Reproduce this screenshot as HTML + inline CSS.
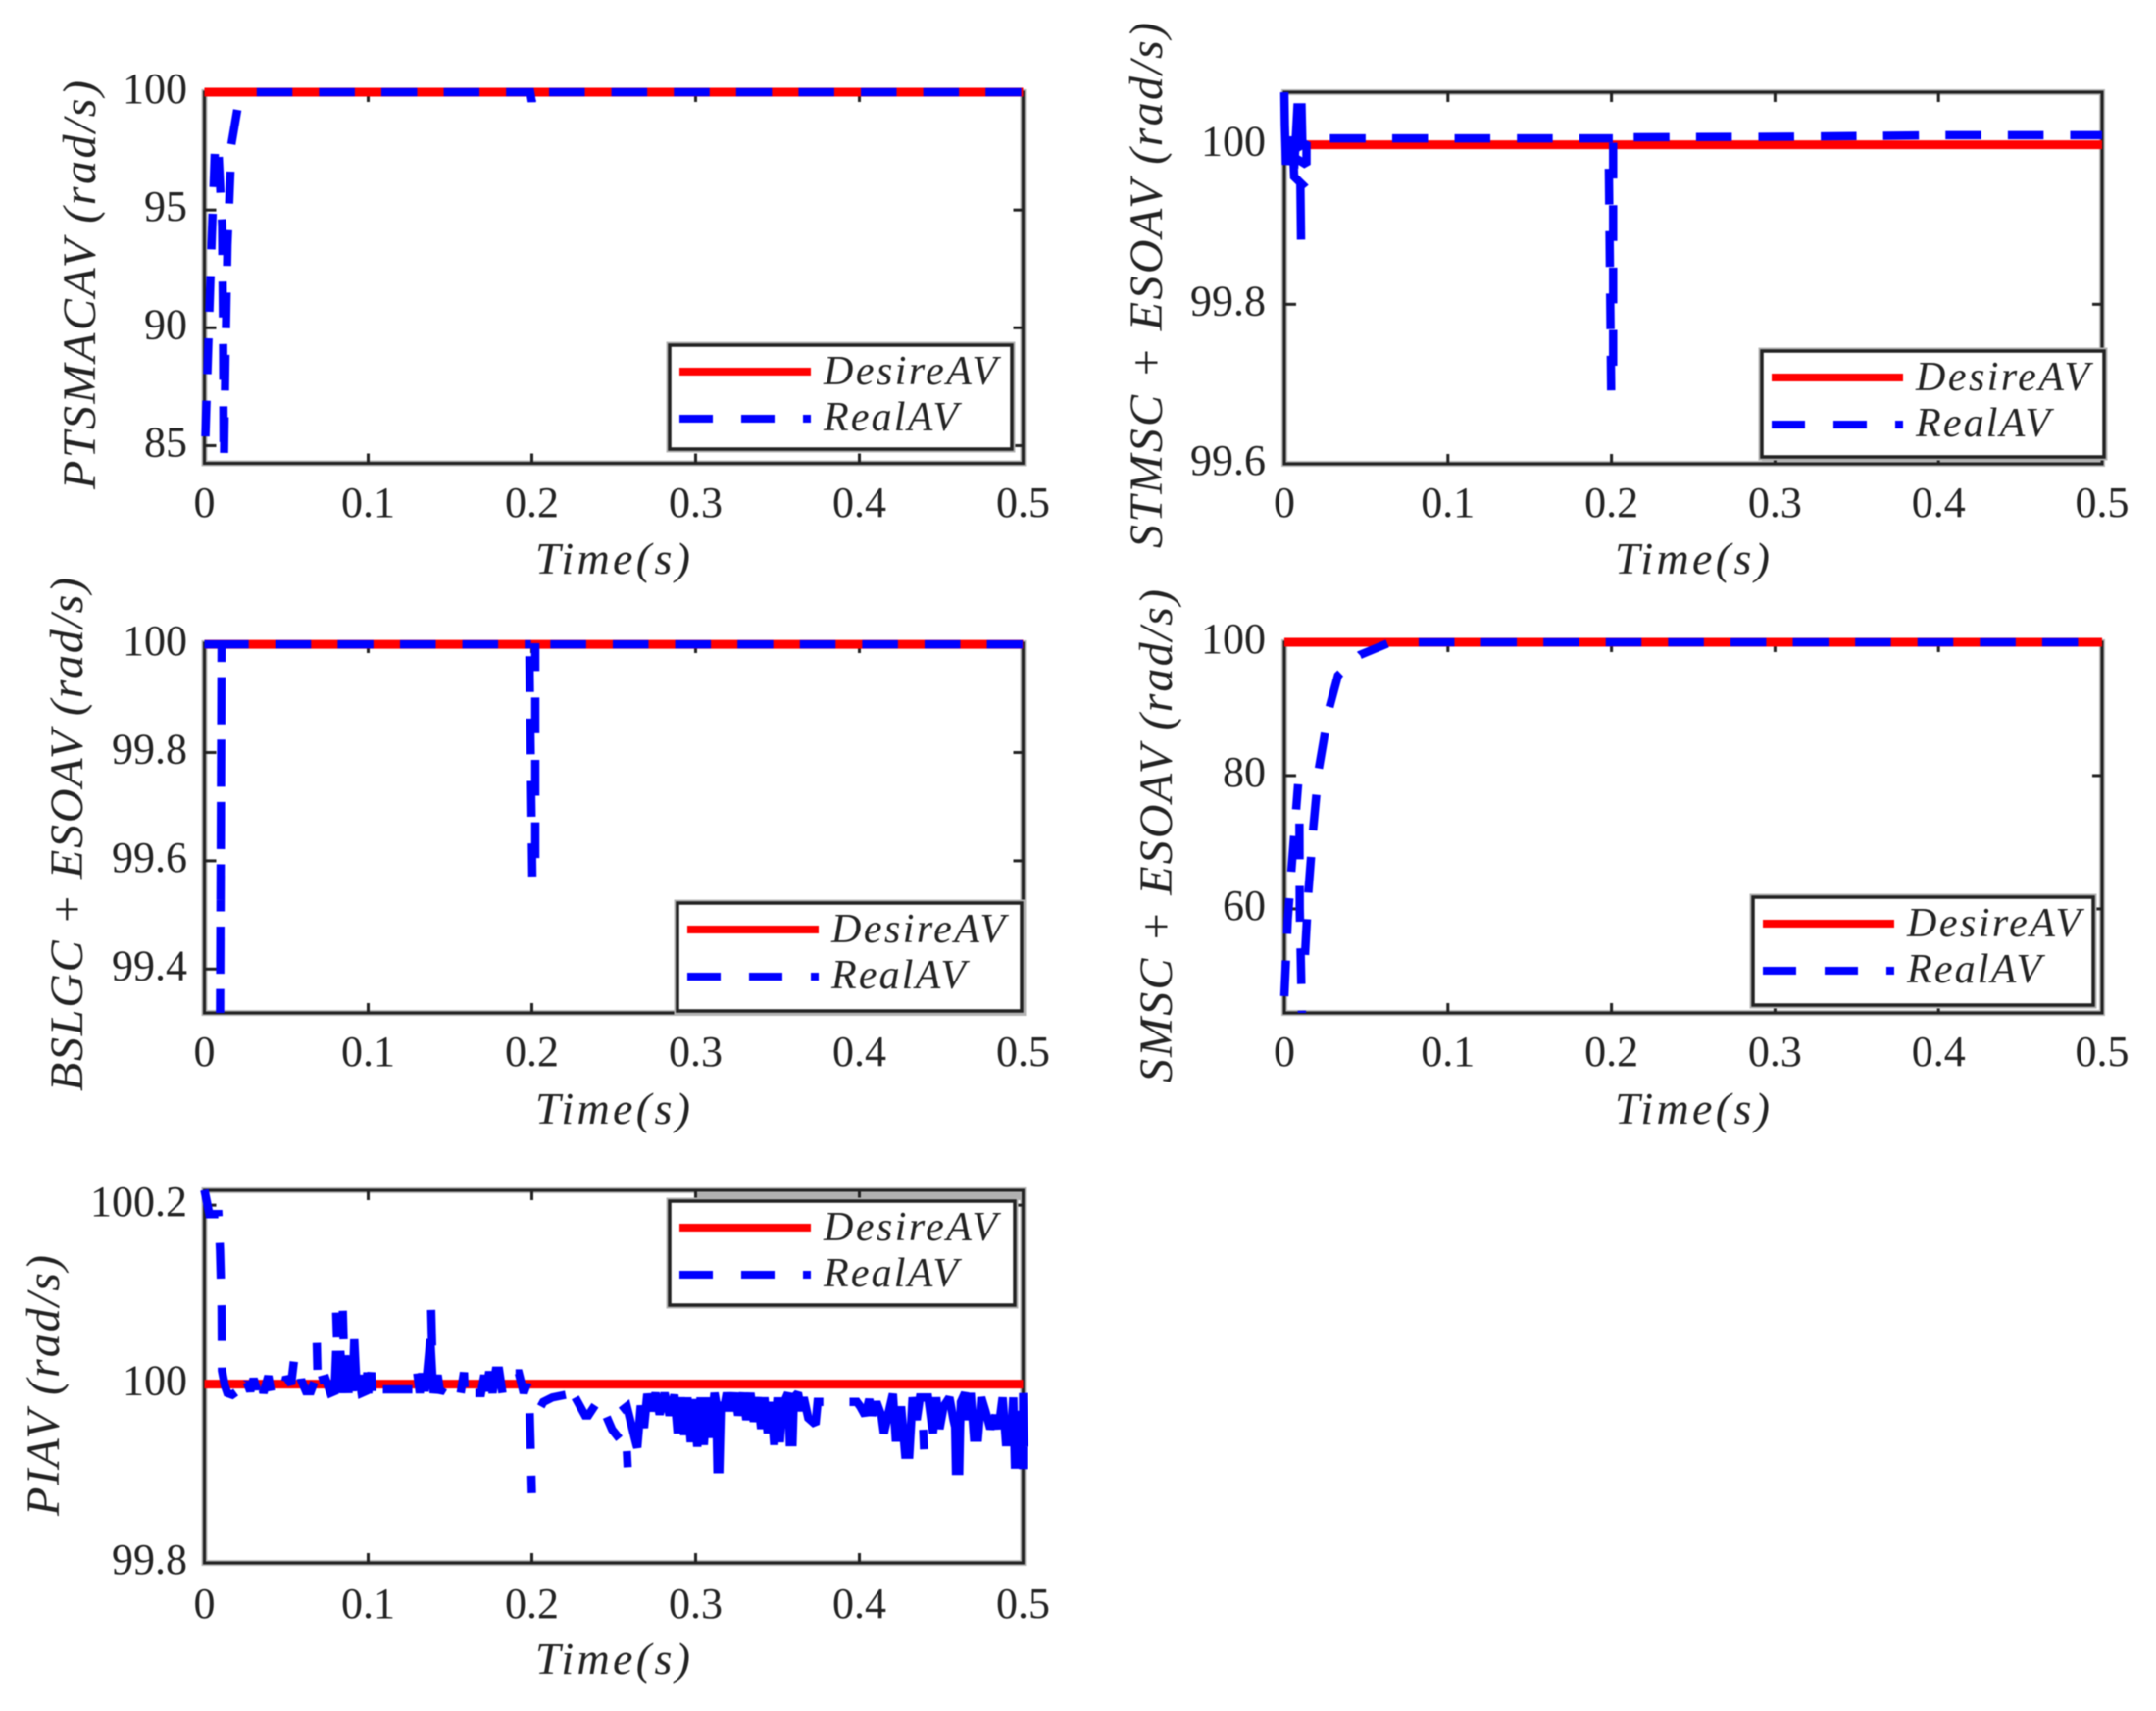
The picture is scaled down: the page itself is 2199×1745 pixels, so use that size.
<!DOCTYPE html>
<html>
<head>
<meta charset="utf-8">
<title>Angular velocity comparison</title>
<style>
html,body{margin:0;padding:0;background:#fff;}
#figure{display:block;width:2199px;height:1745px;filter:blur(0.6px);}
text{font-family:"Liberation Serif",serif;fill:#222;}
.it{font-style:italic;}
</style>
</head>
<body>
<svg id="figure" xmlns="http://www.w3.org/2000/svg" width="2199" height="1745" viewBox="0 0 2199 1745">
<rect x="0" y="0" width="2199" height="1745" fill="#ffffff"></rect>
</svg>
<script>
// ---------- shared data ----------
const timeTicks = [0, 0.1, 0.2, 0.3, 0.4, 0.5];
const timeTickLabels = ["0", "0.1", "0.2", "0.3", "0.4", "0.5"];
const desireTime = [0, 0.5];
const desireValue = [100, 100];
const legendLabels = ["DesireAV", "RealAV"];

// ---------- panel 1: PTSMAC ----------
const ptsmacTicks = [85, 90, 95, 100];
const ptsmacTickLabels = ["85", "90", "95", "100"];
const ptsmacReal = [[0.0006,85.39],[0.0021,88.72],[0.0045,93.92],[0.0063,97.38],null,
[0.0087,97.25],[0.0108,94.34],[0.0114,89.76],[0.0117,84.69],null,
[0.012,84.69],[0.0129,88.93],[0.0141,93.51],[0.0159,96.63],null,
[0.0165,97.79],[0.0201,99.25],null,
[0.0319,100],[0.199,100],[0.2,99.6],[0.2008,100],null,
[0.2105,100],[0.5,100]];
const ptsmacDense = [];

// ---------- panel 2: STMSC + ESO ----------
const stmscTicks = [99.6, 99.8, 100];
const stmscTickLabels = ["99.6", "99.8", "100"];
const stmscReal = [[0.0278,100.008],[0.2008,100.008],null,
[0.1984,99.97],[0.1998,99.692],null,
[0.201,99.723],[0.201,100.003],null,
[0.2136,100.0095],[0.3,100.01],[0.4,100.012],[0.5,100.012]];
const stmscDense = [[0,100.066],[0.0003,100.025],[0.001,99.975],[0.003,100.01],[0.006,99.97],[0.008,100.047],[0.0105,100.047],[0.011,100],[0.0135,100.003],[0.0135,99.975],[0.0055,99.985],[0.006,99.96],[0.0085,99.955],[0.011,99.95],[0.0098,99.948],[0.0102,99.881]];

// ---------- panel 3: BSLGC + ESO ----------
const bslgcTicks = [99.4, 99.6, 99.8, 100];
const bslgcTickLabels = ["99.4", "99.6", "99.8", "100"];
const bslgcReal = [[0,100],[0.0052,100],null,
[0.0052,100],[0.1995,100],null,
[0.0095,99.276],[0.0105,100],null,
[0.0095,99.297],[0.0105,100],null,
[0.1985,99.978],[0.2003,99.571],null,
[0.2021,99.605],[0.2021,100.002],null,
[0.2113,100],[0.5,100]];
const bslgcDense = [];

// ---------- panel 4: SMSC + ESO ----------
const smscTicks = [60, 80, 100];
const smscTickLabels = ["60", "80", "100"];
const smscReal = [[0,46.9],[0.0021,58.4],[0.005,68],[0.0084,78.7],null,
[0.0092,72.8],[0.0094,60],[0.0109,42.1],null,
[0.0126,53.1],[0.0147,62.7],[0.0176,72],[0.021,81],[0.0273,90],[0.0328,95],[0.0462,98.1],[0.063,99.8],null,
[0.0821,100],[0.5,100]];
const smscDense = [];

// ---------- panel 5: PI ----------
const piTicks = [99.8, 100, 100.2];
const piTickLabels = ["99.8", "100", "100.2"];
const piReal = [[0,100.217],[0.003,100.19],[0.0085,100.19],[0.0095,100.15],[0.0105,100.085],[0.0107,100.015],[0.0125,99.998],
[0.014,99.99],[0.017,99.988],[0.02,99.992],[0.022,100.004],[0.024,99.996],[0.026,100.002],[0.028,99.992],[0.03,100.006],[0.032,99.994],[0.034,100.009],[0.036,99.99],[0.039,100.009],[0.041,99.988],[0.045,99.992],[0.048,99.992],[0.05,100.008],[0.053,100],[0.0548,100.028],[0.0575,100.028],[0.059,100.005],[0.062,99.992],[0.065,99.992],[0.067,100.002],null,
[0.0686,100.046],[0.069,100.016],null,
[0.0805,100.08],[0.081,100.052],null,[0.0845,100.082],[0.085,100.05],null,
[0.109,99.994],[0.127,99.994],null,
[0.1385,100.083],[0.1392,100.035],null,
[0.1565,99.99],[0.1585,100.013],[0.159,99.99],null,
[0.19,100.012],[0.192,100.012],[0.195,99.99],[0.197,100],[0.1985,99.98],[0.2,99.878],null,
[0.2055,99.975],[0.207,99.98],[0.2125,99.985],[0.2206,99.988],null,
[0.2265,99.985],[0.2325,99.965],[0.2345,99.965],[0.241,99.983],[0.249,99.949],[0.2534,99.939],null,
[0.258,99.925],[0.2585,99.907],null,
[0.439,99.949],[0.4395,99.927]];
const piDense = [[0.07,100.004],[0.074,100.006],[0.077,99.99],[0.0795,99.992],[0.0805,100.037],[0.082,99.99],[0.083,100.037],[0.085,99.99],[0.086,100.032],[0.088,99.99],[0.089,100.03],[0.0905,99.992],[0.0915,100.05],[0.093,99.993],[0.0945,100.01],[0.096,99.99],[0.0985,99.992],[0.0995,100.013],[0.1,99.99],[0.102,100.013],[0.1025,99.992],null,
[0.13,100.012],[0.1315,99.99],[0.133,100.012],[0.1345,99.992],[0.136,100.012],[0.138,100.05],[0.1392,100.01],[0.14,99.99],[0.1425,100.01],[0.144,99.99],[0.146,99.996],null,
[0.1655,99.99],[0.169,99.99],[0.171,100.01],[0.172,99.992],[0.174,100.014],[0.176,99.99],[0.178,100.015],[0.18,100.015],[0.182,99.99],null,
[0.2545,99.97],[0.258,99.975],[0.264,99.931],[0.2644,99.929],[0.2665,99.976],[0.2685,99.951],[0.2705,99.989],[0.2725,99.97],[0.2755,99.99],[0.278,99.966],[0.281,99.99],[0.284,99.965],[0.287,99.988],[0.289,99.945],[0.291,99.985],[0.293,99.943],[0.295,99.985],[0.297,99.935],[0.299,99.983],[0.301,99.93],[0.303,99.985],[0.305,99.932],[0.307,99.985],[0.309,99.94],[0.3115,99.99],[0.3125,99.98],[0.3133,99.905],[0.3145,99.905],[0.3155,99.98],[0.317,99.97],[0.319,99.99],[0.3215,99.97],[0.324,99.99],[0.326,99.965],[0.329,99.99],[0.331,99.96],[0.3335,99.99],[0.3355,99.958],[0.338,99.985],[0.34,99.95],[0.342,99.985],[0.344,99.945],[0.346,99.98],[0.348,99.932],[0.35,99.985],[0.3515,99.935],[0.353,99.975],[0.3565,99.99],[0.3575,99.935],[0.3592,99.935],[0.36,99.985],[0.3625,99.99],[0.3645,99.97],[0.366,99.985],[0.3688,99.962],[0.3732,99.955],[0.3745,99.98],[0.378,99.98],null,
[0.394,99.98],[0.3985,99.98],[0.4005,99.975],[0.4035,99.965],[0.406,99.983],[0.408,99.965],[0.4105,99.98],[0.4135,99.965],[0.415,99.945],[0.4205,99.989],[0.4222,99.94],[0.424,99.94],[0.4255,99.975],[0.428,99.921],[0.4305,99.921],[0.4325,99.985],[0.435,99.96],[0.437,99.985],[0.442,99.985],[0.445,99.945],[0.447,99.985],[0.449,99.95],[0.4515,99.975],[0.455,99.985],[0.4575,99.96],[0.4585,99.952],[0.459,99.903],[0.461,99.903],[0.4615,99.952],[0.462,99.98],[0.4645,99.99],[0.4665,99.96],[0.468,99.99],[0.47,99.94],[0.4725,99.94],[0.4745,99.985],[0.477,99.97],[0.48,99.95],[0.483,99.965],[0.485,99.95],[0.4875,99.985],[0.4895,99.935],[0.4925,99.935],[0.494,99.985],[0.495,99.91],[0.4975,99.91],[0.4985,99.97],[0.5,99.905],[0.5,99.99],[0.5006,99.93]];

// ---------- layout ----------
const panels = [
 {key:"ptsmac", real:ptsmacReal, dense:ptsmacDense, ticks:ptsmacTicks, labels:ptsmacTickLabels, yMin:84.25, yMax:100, left:208.5, right:1043.5, top:94, bottom:472.5,
  yTitle:"PTSMACAV (rad/s)", yTitleX:97, yTitleTop:82, yTitleBottom:499, legendBox:[683,352,1032,458], yLabelRight:191, xLabelBase:527, xTitleBase:585},
 {key:"stmsc", real:stmscReal, dense:stmscDense, ticks:stmscTicks, labels:stmscTickLabels, yMin:99.6, yMax:100.066, left:1310, right:2144, top:94, bottom:473,
  yTitle:"STMSC + ESOAV (rad/s)", yTitleX:1185, yTitleTop:23, yTitleBottom:559, legendBox:[1797,358,2146,466], yLabelRight:1291, xLabelBase:527, xTitleBase:585, shade:[1797,466,2146,473]},
 {key:"bslgc", real:bslgcReal, dense:bslgcDense, ticks:bslgcTicks, labels:bslgcTickLabels, yMin:99.319, yMax:100.002, left:208.5, right:1043.5, top:656, bottom:1033,
  yTitle:"BSLGC + ESOAV (rad/s)", yTitleX:84, yTitleTop:589, yTitleBottom:1113, legendBox:[691,921,1042,1031], yLabelRight:191, xLabelBase:1087, xTitleBase:1146},
 {key:"smsc", real:smscReal, dense:smscDense, ticks:smscTicks, labels:smscTickLabels, yMin:44.4, yMax:100, left:1310, right:2144, top:655, bottom:1033,
  yTitle:"SMSC + ESOAV (rad/s)", yTitleX:1195, yTitleTop:601, yTitleBottom:1104, legendBox:[1788,915,2135,1025], yLabelRight:1291, xLabelBase:1087, xTitleBase:1146},
 {key:"pi", real:piReal, dense:piDense, ticks:piTicks, labels:piTickLabels, yMin:99.8, yMax:100.2166, left:208.5, right:1043.5, top:1214, bottom:1594,
  yTitle:"PIAV (rad/s)", yTitleX:60, yTitleTop:1280, yTitleBottom:1546, legendBox:[683,1225,1035,1331], yLabelRight:191, xLabelBase:1650, xTitleBase:1707, shade:[709,1217,1043,1224]}
];

const NS = "http://www.w3.org/2000/svg";
const svg = document.getElementById("figure");
const DASH = "36.5 27.1";

function make(tag, parent, attrs) {
  const el = document.createElementNS(NS, tag);
  for (const k in attrs) el.setAttribute(k, attrs[k]);
  parent.appendChild(el);
  return el;
}
function xScale(p, t) { return p.left + (t - timeTicks[0]) / (timeTicks[timeTicks.length - 1] - timeTicks[0]) * (p.right - p.left); }
function yScale(p, v) { return p.top + (p.yMax - v) / (p.yMax - p.yMin) * (p.bottom - p.top); }
function pathFromPairs(p, pairs) {
  let d = "", pen = false;
  pairs.forEach(function (pt) {
    if (pt === null) { pen = false; return; }
    d += (pen ? "L" : "M") + xScale(p, pt[0]).toFixed(2) + " " + yScale(p, pt[1]).toFixed(2);
    pen = true;
  });
  return d;
}

const defs = make("defs", svg, {});

panels.forEach(function (p) {
  const g = make("g", svg, {});
  
  

  const clip = make("clipPath", defs, {id: "clip-" + p.key});
  make("rect", clip, {x: p.left - 6, y: p.top - 6, width: p.right - p.left + 12, height: p.bottom - p.top + 6});

  if (p.shade) {
    const shade = make("rect", g, {x: p.shade[0], y: p.shade[1], width: p.shade[2] - p.shade[0], height: p.shade[3] - p.shade[1], fill: "#b0b0b0"});
    
    
  }

  // axes frame
  const halo = make("rect", g, {x: p.left, y: p.top, width: p.right - p.left, height: p.bottom - p.top, fill: "none", stroke: "#b4b4b4", "stroke-width": 6});
  
  
  const frame = make("rect", g, {x: p.left, y: p.top, width: p.right - p.left, height: p.bottom - p.top, fill: "none", stroke: "#222", "stroke-width": 3});
  
  

  // x ticks
  timeTicks.forEach(function (t, i) {
    const x = xScale(p, t);
    if (i > 0 && i < timeTicks.length - 1) {
      const tb = make("line", g, {x1: x, x2: x, y1: p.bottom, y2: p.bottom - 10, stroke: "#222", "stroke-width": 3});
      
      
      const tt = make("line", g, {x1: x, x2: x, y1: p.top, y2: p.top + 10, stroke: "#222", "stroke-width": 3});
      
      
    }
    const lab = make("text", g, {x: x, y: p.xLabelBase, "font-size": 44, "text-anchor": "middle"});
    lab.textContent = timeTickLabels[i];
    
    
  });

  // y ticks
  p.ticks.forEach(function (v, i) {
    const y = yScale(p, v);
    const tl = make("line", g, {x1: p.left, x2: p.left + 12, y1: y, y2: y, stroke: "#222", "stroke-width": 3});
    
    
    const tr = make("line", g, {x1: p.right, x2: p.right - 10, y1: y, y2: y, stroke: "#222", "stroke-width": 3});
    
    
    const lab = make("text", g, {x: p.yLabelRight, y: y + 11, "font-size": 44, "text-anchor": "end"});
    lab.textContent = p.labels[i];
    
    
  });

  // series
  const desirePairs = desireTime.map(function (t, i) { return [t, desireValue[i]]; });
  const red = make("path", g, {d: pathFromPairs(p, desirePairs), fill: "none", stroke: "#ff0000", "stroke-width": 9, "clip-path": "url(#clip-" + p.key + ")"});
  
  
  const blue = make("path", g, {d: pathFromPairs(p, p.real), fill: "none", stroke: "#0000ff", "stroke-width": 8.5, "stroke-dasharray": DASH, "stroke-linejoin": "miter", "stroke-miterlimit": 2, "clip-path": "url(#clip-" + p.key + ")"});
  
  
  if (p.dense.length) {
    const blob = make("path", g, {d: pathFromPairs(p, p.dense), fill: "none", stroke: "#0000ff", "stroke-width": 8.5, "stroke-linejoin": "miter", "stroke-miterlimit": 2, "clip-path": "url(#clip-" + p.key + ")"});
    
    
  }

  // axis titles
  const xt = make("text", g, {x: (p.left + p.right) / 2 - 1, y: p.xTitleBase, "font-size": 46, "text-anchor": "middle", textLength: 158, lengthAdjust: "spacing", class: "it"});
  xt.textContent = "Time(s)";
  
  

  const yt = make("text", g, {x: 0, y: 0, "font-size": 48, "text-anchor": "start", textLength: p.yTitleBottom - p.yTitleTop, lengthAdjust: "spacing", class: "it", transform: "translate(" + p.yTitleX + " " + p.yTitleBottom + ") rotate(-90)"});
  yt.textContent = p.yTitle;
  
  

  // legend
  const b = p.legendBox;
  const lg = make("g", g, {});
  
  
  const lh = make("rect", lg, {x: b[0], y: b[1], width: b[2] - b[0], height: b[3] - b[1], fill: "#fff", stroke: "#b4b4b4", "stroke-width": 7});
  
  
  const lb = make("rect", lg, {x: b[0], y: b[1], width: b[2] - b[0], height: b[3] - b[1], fill: "#fff", stroke: "#222", "stroke-width": 3.5});
  
  
  const k1 = make("line", lg, {x1: b[0] + 10, x2: b[0] + 144, y1: b[1] + 27, y2: b[1] + 27, stroke: "#ff0000", "stroke-width": 8});
  
  
  const k2 = make("line", lg, {x1: b[0] + 10, x2: b[0] + 144, y1: b[1] + 75, y2: b[1] + 75, stroke: "#0000ff", "stroke-width": 8, "stroke-dasharray": "34 29"});
  
  
  const t1 = make("text", lg, {x: b[0] + 157, y: b[1] + 40, "font-size": 42, textLength: 177, lengthAdjust: "spacing", class: "it"});
  t1.textContent = legendLabels[0];
  
  
  const t2 = make("text", lg, {x: b[0] + 157, y: b[1] + 87, "font-size": 42, textLength: 137, lengthAdjust: "spacing", class: "it"});
  t2.textContent = legendLabels[1];
  
  
});
</script>
</body>
</html>
